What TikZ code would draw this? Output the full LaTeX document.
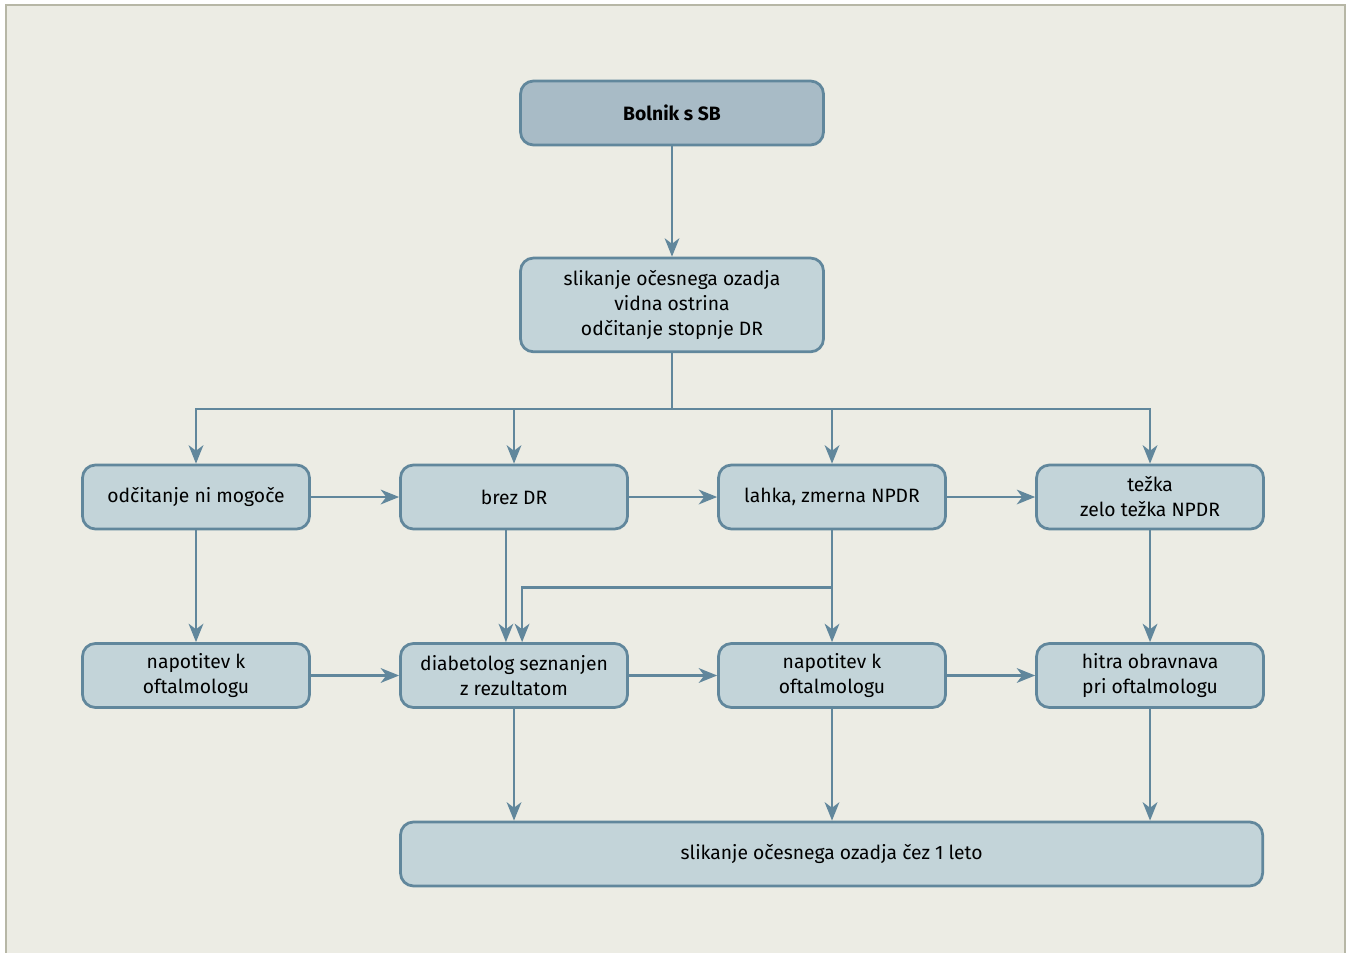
\documentclass[tikz,border=0pt]{standalone}
\usepackage{fontspec}
\setmainfont{Fira Sans}
\usepackage{xcolor}
\usetikzlibrary{arrows.meta,positioning}

\definecolor{pagebg}{HTML}{ECECE4}
\definecolor{framegray}{HTML}{B7B7A6}
\definecolor{boxfill}{HTML}{C3D4D9}
\definecolor{headfill}{HTML}{A8BBC6}
\definecolor{edge}{HTML}{61879C}

\begin{document}
\begin{tikzpicture}[
  x=0.544pt, y=-0.544pt,
  node distance=60.8pt and 48pt,
  font=\fontsize{10.5}{13.6}\selectfont,
  box/.style={draw=edge, line width=1.5pt, rounded corners=7pt, fill=boxfill,
    align=center, minimum width=123.5pt, minimum height=34.8pt, inner sep=2pt},
  head/.style={box, fill=headfill, minimum width=164.8pt, font=\fontsize{10.5}{13.6}\selectfont\bfseries},
  arr/.style={-{Stealth[length=10pt,width=8pt,inset=3pt]}, draw=edge, line width=1.3pt},
  line/.style={draw=edge, line width=1.3pt}
]
\useasboundingbox (0,0) rectangle (1348,953);
\fill[pagebg] (6,5) rectangle (1345,953);
\draw[framegray, line width=1.2pt] (6,953) -- (6,5) -- (1345,5) -- (1345,953);

\node[head] (patient) at (672,113) {Bolnik s SB};
\node[box, below=60pt of patient, minimum width=164.8pt, minimum height=51pt] (screen)
  {slikanje očesnega ozadja\\vidna ostrina\\odčitanje stopnje DR};
\coordinate[below=30.5pt of screen.south] (fork);

% first row: grading
\node[box] (noread) at (196,497) {odčitanje ni mogoče};
\node[box, right=of noread] (nodr) {brez DR};
\node[box, right=of nodr] (mild) {lahka, zmerna NPDR};
\node[box, right=of mild] (severe) {težka\\zelo težka NPDR};

% second row: follow-up
\node[box, below=of noread] (refer) {napotitev k\\oftalmologu};
\node[box, below=of nodr] (diab) {diabetolog seznanjen\\z rezultatom};
\node[box, below=of mild] (referb) {napotitev k\\oftalmologu};
\node[box, below=of severe] (urgent) {hitra obravnava\\pri oftalmologu};

\node[box, below=of diab.south west, anchor=north west, minimum width=469pt] (rescreen)
  {slikanje očesnega ozadja čez 1 leto};

\draw[arr] (patient) -- (screen);
\draw[line] (screen) -- (fork);
\foreach \n in {noread,nodr,mild,severe}
  \draw[arr] (fork) -| (\n.north);

\draw[arr] (noread) -- (nodr);
\draw[arr] (nodr) -- (mild);
\draw[arr] (mild) -- (severe);

\draw[arr] (noread) -- (refer);
\draw[arr] ([xshift=-4.4pt]nodr.south) -- ([xshift=-4.4pt]diab.north);
\draw[arr] (mild) -- (referb);
\coordinate[below=31pt of mild.south] (split);
\draw[arr] (split) -| ([xshift=4.4pt]diab.north);
\draw[arr] (severe) -- (urgent);

\draw[arr] (refer) -- (diab);
\draw[arr] (diab) -- (referb);
\draw[arr] (referb) -- (urgent);

\foreach \n in {diab,referb,urgent}
  \draw[arr] (\n.south) -- (\n.south |- rescreen.north);
\end{tikzpicture}
\end{document}
